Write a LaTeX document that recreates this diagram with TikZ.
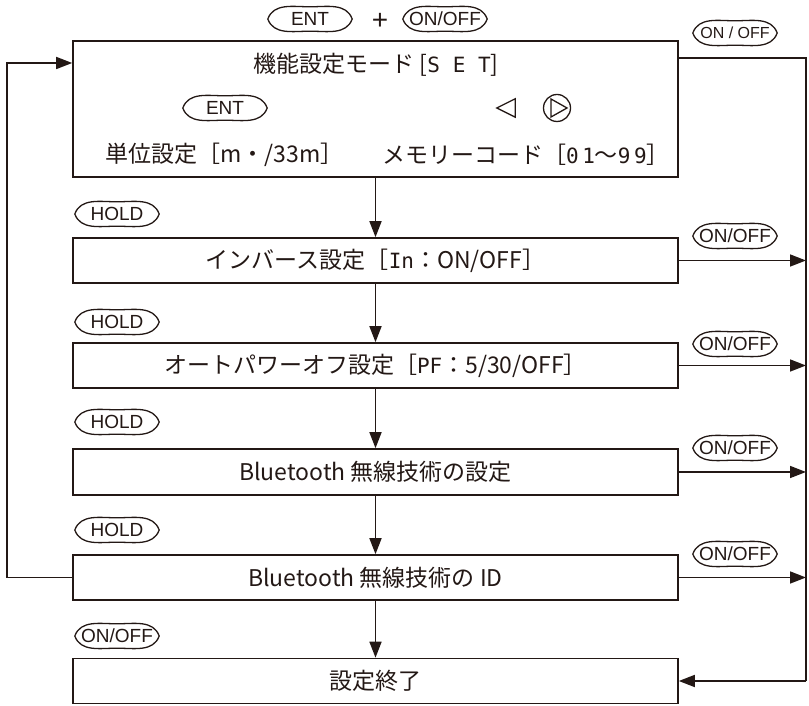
\documentclass[tikz,border=0pt]{standalone}
\usepackage{fontspec}
\setmainfont{Noto Sans CJK JP}
\newfontfamily\btnfont{Liberation Sans}
\newfontfamily\segfont{DejaVu Sans Mono}
\usetikzlibrary{arrows.meta,calc}
\definecolor{ink}{RGB}{35,24,21}
\newcommand{\segtxt}[1]{{\segfont\fontsize{21}{21}\selectfont #1}}
\newcommand{\btn}[4][]{%
 \node[btnnode,#1] (#2) at (#3) {#4};
 \draw[btnline] (#2.west) to[out=70,in=180] (#2.north) to[out=0,in=110] (#2.east) to[out=-110,in=0] (#2.south) to[out=180,in=-70] (#2.west);}
\begin{document}
\begin{tikzpicture}[x=1pt,y=1pt,
 box/.style={draw=ink, line width=1.6pt, minimum width=605pt, inner sep=0pt, font=\fontsize{23}{23}\selectfont, text=ink},
 btnnode/.style={minimum width=84pt, minimum height=24pt, inner sep=0pt, font=\btnfont\fontsize{19}{19}\selectfont, text=ink},
 smallbtn/.style={font=\btnfont\fontsize{16}{16}\selectfont},
 btnline/.style={draw=ink, line width=1.3pt},
 line/.style={draw=ink, line width=1.6pt},
 arr/.style={line, -{Triangle[length=16pt,width=12pt]}},
 txt/.style={font=\fontsize{23}{23}\selectfont, text=ink, inner sep=0pt}]
\useasboundingbox (0,0) rectangle (809,706);
% boxes
\node[box, minimum height=136pt] (box1) at (375.5,597) {};
\node[box, minimum height=45pt] (box2) at (375.5,445.5) {インバース設定［\segtxt{In}：ON/OFF］};
\node[box, minimum height=45pt] (box3) at (375.5,340.5) {オートパワーオフ設定［\segtxt{PF}：5/30/OFF］};
\node[box, minimum height=46pt] (box4) at (375.5,234) {Bluetooth 無線技術の設定};
\node[box, minimum height=45pt] (box5) at (375.5,128.5) {Bluetooth 無線技術の ID};
\node[box, minimum height=45pt] (box6) at (375.5,25) {設定終了};
% box1 contents
\node[txt] (title) at (376,641) {機能設定モード [\segtxt{S E T}]};
\btn{entin}{225,598}{ENT}
\node[inner sep=0pt, minimum size=18pt] (lbtn) at (506,598) {};
\draw[line, line width=1.3pt] (lbtn.north east) -- (lbtn.south east) -- (lbtn.west) -- cycle;
\node[circle, draw=ink, line width=1.3pt, minimum size=27pt, inner sep=0pt] (rbtn) at (557,598) {};
\draw[line, line width=1.3pt] ($(rbtn)+(-6,9)$) -- ($(rbtn)+(-6,-9)$) -- ($(rbtn)+(10,0)$) -- cycle;
\node[txt, anchor=west] (unit) at (105,551) {単位設定［m・/33m］};
\node[txt, anchor=west] (mem) at (382,551) {メモリーコード［\segtxt{0\,1}～\segtxt{9\,9}］};
% top buttons
\btn{enttop}{310,687}{ENT}
\node[font=\btnfont\fontsize{28}{28}\selectfont, text=ink, inner sep=0pt] (plus) at (380,685) {+};
\btn{ontop}{445,687}{ON/OFF}
\btn[smallbtn]{onr1}{735,673}{ON / OFF}
% HOLD buttons
\btn{hold1}{117,492}{HOLD}
\btn{hold2}{117,384}{HOLD}
\btn{hold3}{117,284}{HOLD}
\btn{hold4}{117,176}{HOLD}
\btn{onl}{117,70}{ON/OFF}
% right ON/OFF buttons
\btn{onr2}{735,470}{ON/OFF}
\btn{onr3}{735,362}{ON/OFF}
\btn{onr4}{735,258}{ON/OFF}
\btn{onr5}{735,152}{ON/OFF}
% connectors
\coordinate (tr) at (806,648);
\coordinate (tl) at (7,643);
\draw[line] (box1.east |- tr) -- (tr) -- (tr |- box6.east);
\draw[arr] (tr |- box6.east) -- (box6.east);
\draw[arr] (box2.east) -- (box2.east -| tr);
\draw[arr] (box3.east) -- (box3.east -| tr);
\draw[arr] (box4.east) -- (box4.east -| tr);
\draw[arr] (box5.east) -- (box5.east -| tr);
\draw[arr] (box5.west) -| (tl) -- (box1.west |- tl);
\draw[arr] (box1.south) -- (box2.north);
\draw[arr] (box2.south) -- (box3.north);
\draw[arr] (box3.south) -- (box4.north);
\draw[arr] (box4.south) -- (box5.north);
\draw[arr] (box5.south) -- (box6.north);
\end{tikzpicture}
\end{document}
